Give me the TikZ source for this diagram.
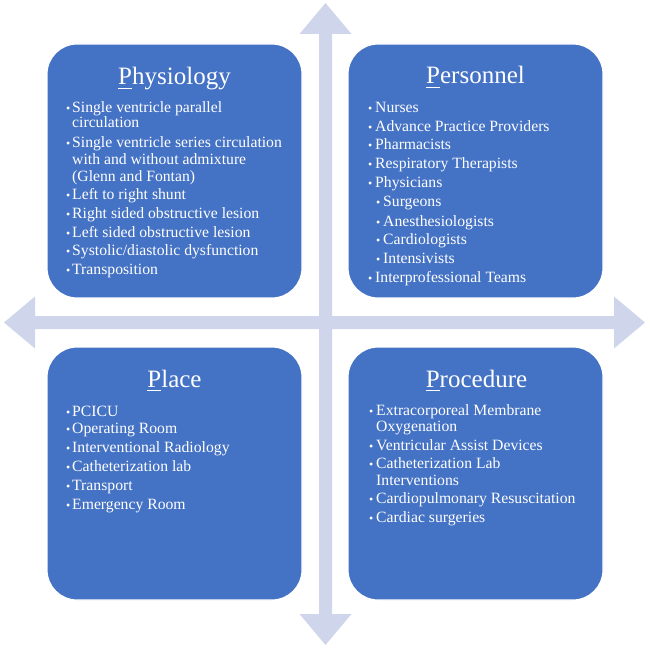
\documentclass[tikz,border=0pt]{standalone}
\usepackage{fontspec}
\setmainfont{Liberation Serif}
\definecolor{boxblue}{HTML}{4472C4}
\definecolor{arrowlav}{HTML}{CFD5EA}
\newcommand\ulfirst[1]{\setbox0\hbox{#1}\rlap{\rule[-3.5pt]{\wd0}{0.9pt}}\box0}
\begin{document}
\begin{tikzpicture}[x=1pt,y=-1pt,
  quadbox/.style={draw=white, line width=1.2pt, fill=boxblue, rounded corners=30pt,
    minimum width=255pt, minimum height=254pt, inner sep=0pt},
  titletext/.style={anchor=base, text=white, inner sep=0pt,
    font=\fontsize{25}{30}\selectfont},
  linetext/.style={anchor=base west, text=white, inner sep=0pt,
    font=\fontsize{15.7}{17}\selectfont},
  bul/.style={anchor=base west, text=white, inner sep=0pt,
    font=\fontsize{12}{12}\selectfont}]
\useasboundingbox (0,0) rectangle (649,650);
% quad arrow
\fill[arrowlav] (325.5,3) -- (351.5,34) -- (332,34) -- (332,316) -- (614,316) -- (614,296.5)
  -- (645,322.5) -- (614,348.5) -- (614,329) -- (332,329) -- (332,614) -- (351.5,614)
  -- (325.5,645) -- (299.5,614) -- (319,614) -- (319,329) -- (35,329) -- (35,348.5)
  -- (4,322.5) -- (35,296.5) -- (35,316) -- (319,316) -- (319,34) -- (299.5,34) -- cycle;
% boxes
\node[quadbox] (phys) at (174.5,171) {};
\node[quadbox] (pers) at (475.5,171) {};
\node[quadbox, minimum height=253pt] (plac) at (174.5,473.5) {};
\node[quadbox, minimum height=253pt] (proc) at (475.5,473.5) {};
% titles
\node[titletext] (tphys) at (174.5,85) {\ulfirst{P}hysiology};
\node[titletext] (tpers) at (475.5,84) {\ulfirst{P}ersonnel};
\node[titletext] (tplac) at (174.5,387) {\ulfirst{P}lace};
\node[titletext] (tproc) at (476.5,387) {\ulfirst{P}rocedure};
% Physiology list
\foreach \i/\y in {1/113,3/147,6/199.5,7/218,8/237,9/255,10/274}
  \node[bul] (bphys\i) at (66,\y) {•};
\node[linetext] (phys1) at (72,113) {Single ventricle parallel};
\node[linetext] (phys2) at (72,128) {circulation};
\node[linetext] (phys3) at (72,147) {Single ventricle series circulation};
\node[linetext] (phys4) at (72,164.5) {with and without admixture};
\node[linetext] (phys5) at (72,181) {(Glenn and Fontan)};
\node[linetext] (phys6) at (72,199.5) {Left to right shunt};
\node[linetext] (phys7) at (72,218) {Right sided obstructive lesion};
\node[linetext] (phys8) at (72,237) {Left sided obstructive lesion};
\node[linetext] (phys9) at (72,255) {Systolic/diastolic dysfunction};
\node[linetext] (phys10) at (72,274) {Transposition};
% Personnel list
\foreach \i/\y in {1/112.8,2/131.2,3/149.5,4/168.5,5/187.8,10/282.8}
  \node[bul] (bpers\i) at (368,\y) {•};
\foreach \i/\y in {6/206.8,7/226.2,8/244.5,9/263.5}
  \node[bul] (bpers\i) at (376,\y) {•};
\node[linetext] (pers1) at (375,112.8) {Nurses};
\node[linetext] (pers2) at (375,131.2) {Advance Practice Providers};
\node[linetext] (pers3) at (375,149.5) {Pharmacists};
\node[linetext] (pers4) at (375,168.5) {Respiratory Therapists};
\node[linetext] (pers5) at (375,187.8) {Physicians};
\node[linetext] (pers6) at (383,206.8) {Surgeons};
\node[linetext] (pers7) at (383,226.2) {Anesthesiologists};
\node[linetext] (pers8) at (383,244.5) {Cardiologists};
\node[linetext] (pers9) at (383,263.5) {Intensivists};
\node[linetext] (pers10) at (375,282.8) {Interprofessional Teams};
% Place list
\foreach \i/\y in {1/416.2,2/433.8,3/452.2,4/471.8,5/490.2,6/509.5}
  \node[bul] (bplac\i) at (66,\y) {•};
\node[linetext] (plac1) at (72,416.2) {PCICU};
\node[linetext] (plac2) at (72,433.8) {Operating Room};
\node[linetext] (plac3) at (72,452.2) {Interventional Radiology};
\node[linetext] (plac4) at (72,471.8) {Catheterization lab};
\node[linetext] (plac5) at (72,490.2) {Transport};
\node[linetext] (plac6) at (72,509.5) {Emergency Room};
% Procedure list
\foreach \i/\y in {1/415.5,3/450.5,4/468.8,6/503.8,7/522.2}
  \node[bul] (bproc\i) at (369,\y) {•};
\node[linetext] (proc1) at (376,415.5) {Extracorporeal Membrane};
\node[linetext] (proc2) at (376,431.2) {Oxygenation};
\node[linetext] (proc3) at (376,450.5) {Ventricular Assist Devices};
\node[linetext] (proc4) at (376,468.8) {Catheterization Lab};
\node[linetext] (proc5) at (376,485.5) {Interventions};
\node[linetext] (proc6) at (376,503.8) {Cardiopulmonary Resuscitation};
\node[linetext] (proc7) at (376,522.2) {Cardiac surgeries};
\end{tikzpicture}
\end{document}
